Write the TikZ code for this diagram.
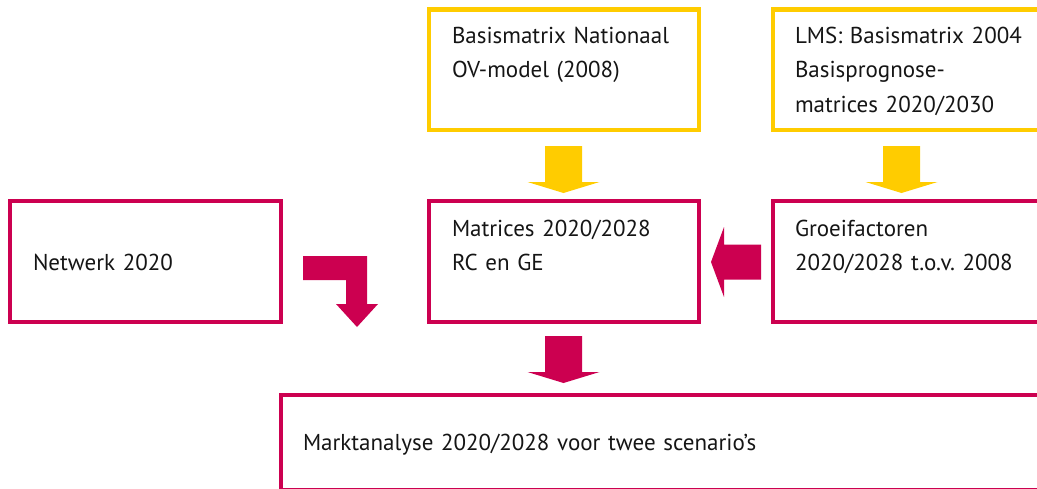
\documentclass[tikz,border=0pt]{standalone}
\usepackage{fontspec}
\setmainfont{PT Sans}
\usetikzlibrary{calc}
\definecolor{robijn}{HTML}{CC0050}
\definecolor{geel}{HTML}{FFCC00}
\definecolor{tekst}{HTML}{151515}
\frenchspacing
\begin{document}
\begin{tikzpicture}[x=1pt,y=-1pt,
  box/.style={rectangle, draw, line width=4.5pt, inner sep=0pt, outer sep=0pt},
  inputbox/.style={box, draw=geel},
  stagebox/.style={box, draw=robijn},
  boxtext/.style={anchor=base west, inner sep=0pt, outer sep=0pt, text width=700pt,
    align=left, text=tekst, font=\fontsize{23}{34.5}\selectfont\frenchspacing},
  % block arrow pointing down, origin at the middle of the shaft's top edge
  pics/downblock/.style={code={
    \fill[#1] (-18.5,0) -- (18.5,0) -- (18.5,36) -- (36,36) -- (0,47)
      -- (-36,36) -- (-18.5,36) -- cycle;}},
  % block arrow pointing left, origin at its tip
  pics/leftblock/.style={code={
    \fill[#1] (0,0) -- (13,-35) -- (13,-17.5) -- (50,-17.5) -- (50,17.5)
      -- (13,17.5) -- (13,35) -- cycle;}}
]
\clip (0,0) rectangle (1037,488);

% source matrices
\node[inputbox, minimum width=270pt, minimum height=120.5pt] (ovmodel) at (564,69.5) {};
\node[inputbox, minimum width=290pt, minimum height=120.5pt] (lms) at (918,69.5) {};

% intermediate steps
\node[stagebox, minimum width=271pt, minimum height=121pt] (netwerk) at (145.5,261.5) {};
\node[stagebox, minimum width=270pt, minimum height=121pt] (matrices) at (564,261.5) {};
\node[stagebox, minimum width=290pt, minimum height=121pt] (groei) at (918,261.5) {};

% result
\node[stagebox, minimum width=780pt, minimum height=95pt] (markt) at (671,442.5) {};

% box texts
\node[boxtext] (tovmodel) at (452,43) {Basismatrix Nationaal\\OV-model (2008)};
\node[boxtext] (tlms) at (795,43) {LMS: Basismatrix 2004\\Basisprognose-\\matrices 2020/2030};
\node[boxtext] (tnetwerk) at (33,270) {Netwerk 2020};
\node[boxtext] (tmatrices) at (452,236) {Matrices 2020/2028\\RC en GE};
\node[boxtext] (tgroei) at (795,236) {Groeifactoren\\2020/2028 t.o.v. 2008};
\node[boxtext] (tmarkt) at (303,450) {Marktanalyse 2020/2028 voor twee scenario’s};

% flow arrows
\pic at ($(ovmodel.south)+(-0.5,16.25)$) {downblock=geel};
\pic at ($(lms.south west)+(128.5,16.25)$) {downblock=geel};
\pic at ($(matrices.south)+(-0.5,14)$) {downblock=robijn};
\pic at ($(matrices.east)+(12,0.5)$) {leftblock=robijn};

% bent arrow from the network box
\fill[robijn] ($(netwerk.east)+(22,-5.5)$) coordinate (bentstart)
  -- ++(64,0) -- ++(0,48) -- ++(11,0) -- ++(-21,23) -- ++(-21,-23)
  -- ++(10,0) -- ++(0,-24) -- ++(-43,0) -- cycle;
\end{tikzpicture}
\end{document}
